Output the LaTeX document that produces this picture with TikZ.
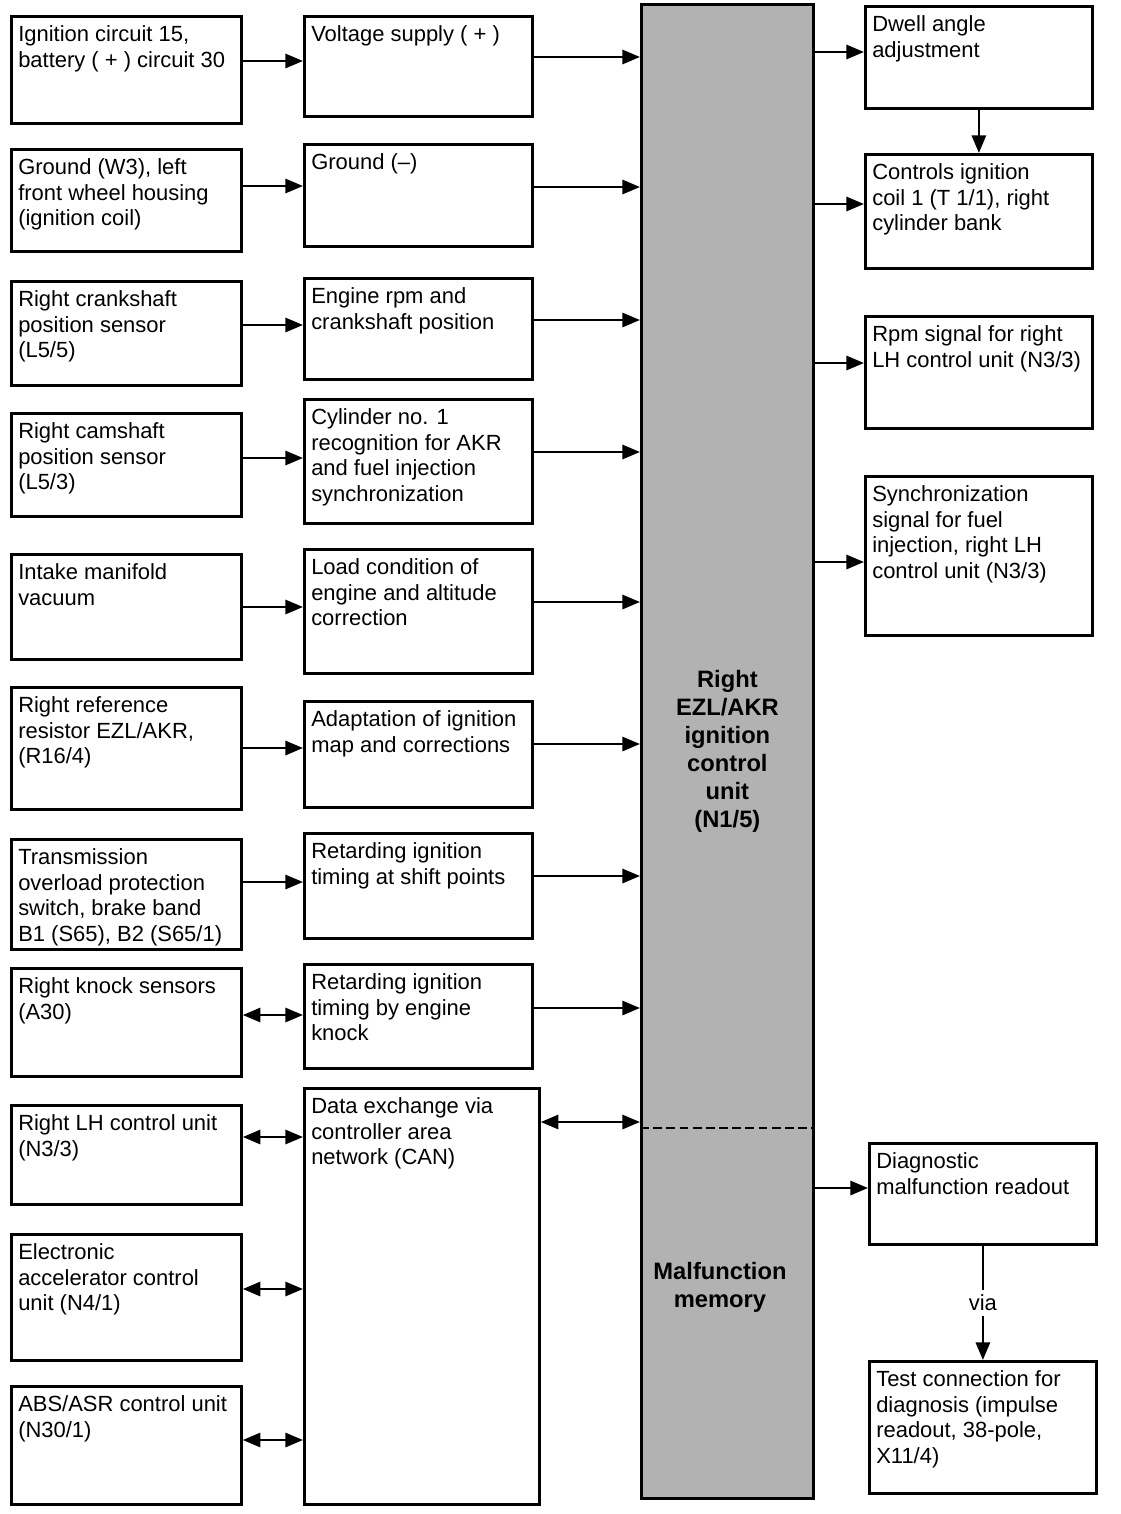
\documentclass[tikz,border=0pt]{standalone}
\usepackage{fontspec}
\setmainfont{Liberation Sans}
\usetikzlibrary{arrows.meta}

\begin{document}
\begin{tikzpicture}[x=0.02cm, y=-0.02cm,
  box/.style={draw, line width=1.6pt, anchor=north west, inner sep=0pt},
  lbox/.style={box, minimum width=4.6cm},
  mbox/.style={box, minimum width=4.56cm},
  rbox/.style={box, minimum width=4.54cm},
  txt/.style={anchor=north west, align=left, inner xsep=4.5pt, inner ysep=6pt, font=\fontsize{12.5}{14.5}\selectfont},
  bold/.style={align=center, font=\fontsize{13.5}{16}\selectfont\bfseries},
  arr/.style={line width=1.5pt, -{Triangle[length=10pt,width=8pt]}},
  darr/.style={line width=1.5pt, {Triangle[length=10pt,width=8pt]}-{Triangle[length=10pt,width=8pt]}}]
  \useasboundingbox (0,0) rectangle (1120,1514);

  % control unit bar
  \node[box, fill=black!30, minimum width=3.44cm, minimum height=29.88cm, bold] (ecu) at (640,3)
    {Right\\EZL/AKR\\ignition\\control\\unit\\(N1/5)};
  \draw[line width=1.6pt, dash pattern=on 5pt off 2.5pt] (ecu.west |- 0,1128) -- (ecu.east |- 0,1128);
  \node[bold] (mem) at (720,1287) {Malfunction\\memory};

  % inputs
  \node[lbox, minimum height=2.14cm] (l1) at (10,15) {};
  \node[txt] (l1t) at (l1.north west) {Ignition circuit 15,\\battery ( + ) circuit 30};
  \node[lbox, minimum height=2.04cm] (l2) at (10,148) {};
  \node[txt] (l2t) at (l2.north west) {Ground (W3), left\\front wheel housing\\(ignition coil)};
  \node[lbox, minimum height=2.08cm] (l3) at (10,280) {};
  \node[txt] (l3t) at (l3.north west) {Right crankshaft\\position sensor\\(L5/5)};
  \node[lbox, minimum height=2.06cm] (l4) at (10,412) {};
  \node[txt] (l4t) at (l4.north west) {Right camshaft\\position sensor\\(L5/3)};
  \node[lbox, minimum height=2.10cm] (l5) at (10,553) {};
  \node[txt] (l5t) at (l5.north west) {Intake manifold\\vacuum};
  \node[lbox, minimum height=2.44cm] (l6) at (10,686) {};
  \node[txt] (l6t) at (l6.north west) {Right reference\\resistor EZL/AKR,\\(R16/4)};
  \node[lbox, minimum height=2.20cm] (l7) at (10,838) {};
  \node[txt] (l7t) at (l7.north west) {Transmission\\overload protection\\switch, brake band\\B1 (S65), B2 (S65/1)};
  \node[lbox, minimum height=2.16cm] (l8) at (10,967) {};
  \node[txt] (l8t) at (l8.north west) {Right knock sensors\\(A30)};
  \node[lbox, minimum height=1.98cm] (l9) at (10,1104) {};
  \node[txt] (l9t) at (l9.north west) {Right LH control unit\\(N3/3)};
  \node[lbox, minimum height=2.52cm] (l10) at (10,1233) {};
  \node[txt] (l10t) at (l10.north west) {Electronic\\accelerator control\\unit (N4/1)};
  \node[lbox, minimum height=2.36cm] (l11) at (10,1385) {};
  \node[txt] (l11t) at (l11.north west) {ABS/ASR control unit\\(N30/1)};

  % functions
  \node[mbox, minimum height=2.00cm] (m1) at (303,15) {};
  \node[txt] (m1t) at (m1.north west) {Voltage supply ( + )};
  \node[mbox, minimum height=2.04cm] (m2) at (303,143) {};
  \node[txt] (m2t) at (m2.north west) {Ground (–)};
  \node[mbox, minimum height=2.02cm] (m3) at (303,277) {};
  \node[txt] (m3t) at (m3.north west) {Engine rpm and\\crankshaft position};
  \node[mbox, minimum height=2.48cm] (m4) at (303,398) {};
  \node[txt] (m4t) at (m4.north west) {Cylinder no. 1\\recognition for AKR\\and fuel injection\\synchronization};
  \node[mbox, minimum height=2.48cm] (m5) at (303,548) {};
  \node[txt] (m5t) at (m5.north west) {Load condition of\\engine and altitude\\correction};
  \node[mbox, minimum height=2.12cm] (m6) at (303,700) {};
  \node[txt] (m6t) at (m6.north west) {Adaptation of ignition\\map and corrections};
  \node[mbox, minimum height=2.10cm] (m7) at (303,832) {};
  \node[txt] (m7t) at (m7.north west) {Retarding ignition\\timing at shift points};
  \node[mbox, minimum height=2.08cm] (m8) at (303,963) {};
  \node[txt] (m8t) at (m8.north west) {Retarding ignition\\timing by engine\\knock};
  \node[box, minimum width=4.70cm, minimum height=8.32cm] (m9) at (303,1087) {};
  \node[txt] (m9t) at (m9.north west) {Data exchange via\\controller area\\network (CAN)};

  % outputs
  \node[rbox, minimum height=2.04cm] (r1) at (864,5) {};
  \node[txt] (r1t) at (r1.north west) {Dwell angle\\adjustment};
  \node[rbox, minimum height=2.28cm] (r2) at (864,153) {};
  \node[txt] (r2t) at (r2.north west) {Controls ignition\\coil 1 (T 1/1), right\\cylinder bank};
  \node[rbox, minimum height=2.24cm] (r3) at (864,315) {};
  \node[txt] (r3t) at (r3.north west) {Rpm signal for right\\LH control unit (N3/3)};
  \node[rbox, minimum height=3.18cm] (r4) at (864,475) {};
  \node[txt] (r4t) at (r4.north west) {Synchronization\\signal for fuel\\injection, right LH\\control unit (N3/3)};
  \node[rbox, minimum height=2.02cm] (r5) at (868,1142) {};
  \node[txt] (r5t) at (r5.north west) {Diagnostic\\malfunction readout};
  \node[rbox, minimum height=2.64cm] (r6) at (868,1360) {};
  \node[txt] (r6t) at (r6.north west) {Test connection for\\diagnosis (impulse\\readout, 38-pole,\\X11/4)};

  % inputs -> functions
  \draw[arr] (l1.east |- 0,61) -- (m1.west |- 0,61);
  \draw[arr] (l2.east |- 0,186) -- (m2.west |- 0,186);
  \draw[arr] (l3.east |- 0,325) -- (m3.west |- 0,325);
  \draw[arr] (l4.east |- 0,458) -- (m4.west |- 0,458);
  \draw[arr] (l5.east |- 0,607) -- (m5.west |- 0,607);
  \draw[arr] (l6.east |- 0,748) -- (m6.west |- 0,748);
  \draw[arr] (l7.east |- 0,882) -- (m7.west |- 0,882);
  \draw[darr] (l8.east |- 0,1015) -- (m8.west |- 0,1015);
  \draw[darr] (l9.east |- 0,1137) -- (m9.west |- 0,1137);
  \draw[darr] (l10.east |- 0,1289) -- (m9.west |- 0,1289);
  \draw[darr] (l11.east |- 0,1440) -- (m9.west |- 0,1440);

  % functions -> control unit
  \draw[arr] (m1.east |- 0,57) -- (ecu.west |- 0,57);
  \draw[arr] (m2.east |- 0,187) -- (ecu.west |- 0,187);
  \draw[arr] (m3.east |- 0,320) -- (ecu.west |- 0,320);
  \draw[arr] (m4.east |- 0,452) -- (ecu.west |- 0,452);
  \draw[arr] (m5.east |- 0,602) -- (ecu.west |- 0,602);
  \draw[arr] (m6.east |- 0,744) -- (ecu.west |- 0,744);
  \draw[arr] (m7.east |- 0,876) -- (ecu.west |- 0,876);
  \draw[arr] (m8.east |- 0,1008) -- (ecu.west |- 0,1008);
  \draw[darr] (m9.east |- 0,1122) -- (ecu.west |- 0,1122);

  % control unit -> outputs
  \draw[arr] (ecu.east |- 0,52) -- (r1.west |- 0,52);
  \draw[arr] (ecu.east |- 0,204) -- (r2.west |- 0,204);
  \draw[arr] (ecu.east |- 0,363) -- (r3.west |- 0,363);
  \draw[arr] (ecu.east |- 0,562) -- (r4.west |- 0,562);
  \draw[arr] (ecu.east |- 0,1188) -- (r5.west |- 0,1188);
  \draw[arr] (r1.south) -- (r2.north);
  \draw[arr] (r5.south) -- node[fill=white, inner sep=3pt, font=\fontsize{12.5}{14.5}\selectfont] (via) {via} (r6.north);
\end{tikzpicture}
\end{document}
